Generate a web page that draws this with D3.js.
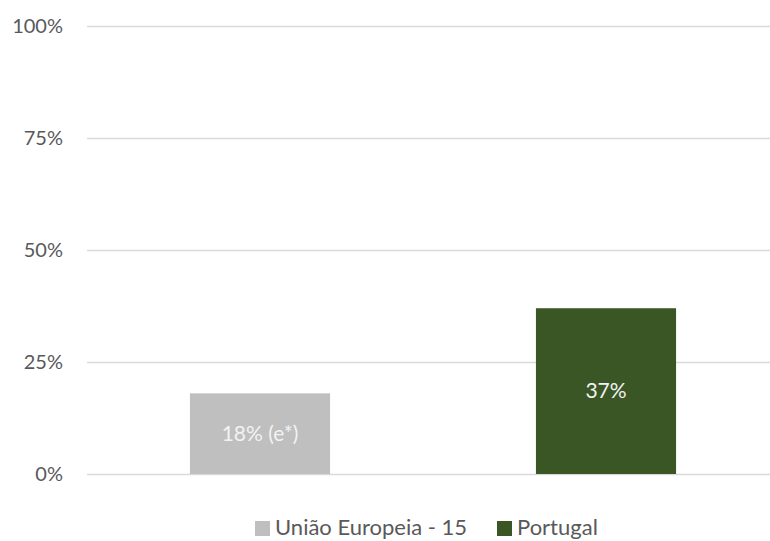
<!DOCTYPE html>
<html><head><meta charset="utf-8">
<script src="https://cdn.jsdelivr.net/npm/d3@7"></script>
<style>body{margin:0;background:#fff}svg{display:block}</style>
</head><body>
<svg id="c" width="770" height="541"></svg>
<script>
const series = ["União Europeia - 15", "Portugal"];
const values = [18, 37];
const labels = ["18% (e*)", "37%"];
const colors = ["#bfbfbf", "#3a5625"];
const yTicks = [0, 25, 50, 75, 100];

(function () {
const svg = d3.select("#c");
const font = "Lato, 'Open Sans', sans-serif";
const pLeft = 87, pRight = 779, pTop = 26, pBottom = 474;

const x = d3.scaleBand().domain(series).range([pLeft, pRight]).paddingInner(0.595).paddingOuter(0.2975);
const y = d3.scaleLinear().domain([0, 100]).range([pBottom, pTop]);

const yAxis = d3.axisLeft(y).tickValues(yTicks).tickFormat(d => d + "%").tickSize(-(pRight - pLeft)).tickPadding(24);
const g = svg.append("g").attr("transform", `translate(${pLeft},0)`).call(yAxis);
g.select(".domain").remove();
g.selectAll(".tick line").attr("stroke", "#d9d9d9").attr("stroke-width", 1.5);
g.selectAll(".tick text").attr("fill", "#595959").style("font-family", font).style("font-size", "20px");

svg.selectAll("rect.bar").data(series).enter().append("rect")
  .attr("class", "bar")
  .attr("x", d => x(d)).attr("width", x.bandwidth())
  .attr("y", (d, i) => y(values[i])).attr("height", (d, i) => y(0) - y(values[i]))
  .attr("fill", (d, i) => colors[i]);

svg.selectAll("text.lbl").data(series).enter().append("text")
  .attr("class", "lbl")
  .attr("x", d => x(d) + x.bandwidth() / 2)
  .attr("y", (d, i) => (y(values[i]) + y(0)) / 2)
  .attr("dy", "0.35em").attr("text-anchor", "middle")
  .attr("fill", "#f2f2f2").style("font-family", font).style("font-size", "21px")
  .text((d, i) => labels[i]);

const legX = [255, 497];
const leg = svg.selectAll("g.leg").data(series).enter().append("g").attr("class", "leg")
  .attr("transform", (d, i) => `translate(${legX[i]},521)`);
leg.append("rect").attr("width", 15).attr("height", 15).attr("fill", (d, i) => colors[i]);
leg.append("text").attr("x", 20).attr("y", 14).attr("fill", "#595959")
  .style("font-family", font).style("font-size", "22px").text(d => d);
})();
</script>
</body></html>
